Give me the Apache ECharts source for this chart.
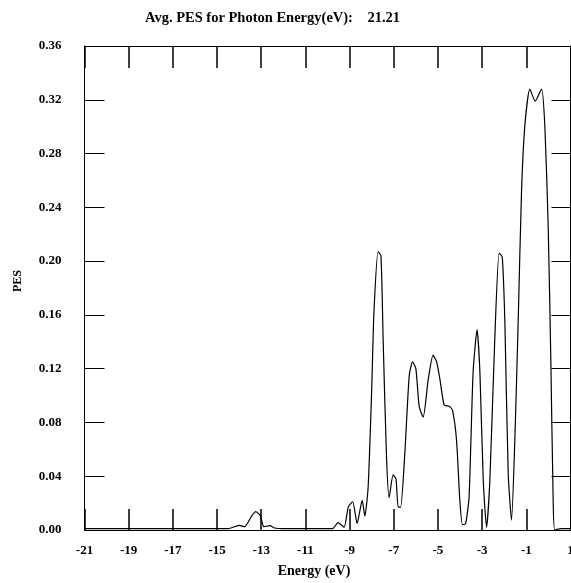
<!DOCTYPE html>
<html>
<head>
<meta charset="utf-8">
<script src="https://cdn.jsdelivr.net/npm/echarts@6/dist/echarts.min.js"></script>
<style>html,body{margin:0;padding:0;background:#fff;}#c{width:571px;height:583px;}</style>
</head>
<body>
<div id="c"></div>
<script>
const titleText = 'Avg. PES for Photon Energy(eV):    21.21';
const xName = 'Energy (eV)';
const yName = 'PES';
const energy = [-21, -20, -19, -18, -17, -16, -15, -14.5, -14.0, -13.75, -13.45, -13.25, -13.05, -12.88, -12.6, -12.4, -12, -11, -10.5, -10, -9.75, -9.52, -9.25, -9.06, -8.86, -8.66, -8.43, -8.31, -8.16, -8.0, -7.9, -7.71, -7.58, -7.48, -7.33, -7.21, -7.03, -6.9, -6.8, -6.69, -6.5, -6.3, -6.15, -6.0, -5.85, -5.67, -5.44, -5.22, -5.06, -4.91, -4.72, -4.49, -4.34, -4.16, -4.01, -3.89, -3.75, -3.59, -3.41, -3.23, -3.1, -2.95, -2.8, -2.65, -2.43, -2.23, -2.09, -1.97, -1.82, -1.67, -1.52, -1.37, -1.22, -1.07, -0.84, -0.6, -0.31, -0.16, -0.01, 0.11, 0.21, 0.29, 0.6, 1];
const pes = [0.001, 0.001, 0.001, 0.001, 0.001, 0.001, 0.001, 0.001, 0.0035, 0.0025, 0.0099, 0.0136, 0.011, 0.0025, 0.0032, 0.0015, 0.001, 0.001, 0.001, 0.001, 0.0012, 0.0055, 0.002, 0.017, 0.021, 0.005, 0.022, 0.0104, 0.032, 0.104, 0.161, 0.207, 0.204, 0.141, 0.055, 0.024, 0.041, 0.038, 0.017, 0.017, 0.057, 0.115, 0.125, 0.12, 0.092, 0.084, 0.112, 0.13, 0.125, 0.112, 0.093, 0.092, 0.089, 0.067, 0.022, 0.004, 0.0045, 0.025, 0.117, 0.149, 0.117, 0.037, 0.002, 0.037, 0.141, 0.206, 0.203, 0.154, 0.042, 0.0074, 0.067, 0.154, 0.25, 0.3, 0.328, 0.319, 0.328, 0.3, 0.226, 0.126, 0.027, 0.0, 0.001, 0.001];

const serif = 'Liberation Serif';
const tickFont = {fontFamily: serif, fontWeight: 'bold', fontSize: 13, color: '#000'};
const chart = echarts.init(document.getElementById('c'), null, {renderer: 'canvas'});
const lineStyle = {color: '#000', width: 1};
chart.setOption({
  animation: false,
  backgroundColor: '#fff',
  title: {text: titleText, left: 140, top: 6, textStyle: {fontFamily: serif, fontWeight: 'bold', fontSize: 14.5, color: '#000'}},
  grid: {left: 84.5, right: 0.5, top: 46, bottom: 53, containLabel: false, outerBoundsMode: 'none'},
  xAxis: [
    {type: 'value', min: -21, max: 1, interval: 2, position: 'bottom',
     axisLine: {show: true, onZero: false, lineStyle: lineStyle},
     axisTick: {show: true, inside: true, length: 21, lineStyle: {color: '#000', width: 1.5}},
     axisLabel: Object.assign({margin: 14}, tickFont),
     splitLine: {show: false}},
    {type: 'value', min: -21, max: 1, interval: 2, position: 'top',
     axisLine: {show: true, onZero: false, lineStyle: lineStyle},
     axisTick: {show: true, inside: true, length: 22, lineStyle: {color: '#000', width: 1.5}},
     axisLabel: {show: false}, splitLine: {show: false}}
  ],
  yAxis: [
    {type: 'value', min: 0, max: 0.36, interval: 0.04, position: 'left',
     axisLine: {show: true, onZero: false, lineStyle: lineStyle},
     axisTick: {show: true, inside: true, length: 20, lineStyle: {color: '#000', width: 1}},
     axisLabel: Object.assign({margin: 23, formatter: v => v.toFixed(2)}, tickFont),
     splitLine: {show: false}},
    {type: 'value', min: 0, max: 0.36, interval: 0.04, position: 'right',
     axisLine: {show: true, onZero: false, lineStyle: lineStyle},
     axisTick: {show: true, inside: true, length: 19, lineStyle: {color: '#000', width: 1}},
     axisLabel: {show: false}, splitLine: {show: false}}
  ],
  graphic: [
    {type: 'text', x: 314, y: 571, style: {text: xName, fill: '#000', font: 'bold 14px "Liberation Serif"', textAlign: 'center', textVerticalAlign: 'middle'}},
    {type: 'text', x: 18, y: 281, rotation: Math.PI / 2, style: {text: yName, fill: '#000', font: 'bold 12px "Liberation Serif"', textAlign: 'center', textVerticalAlign: 'middle'}}
  ],
  series: [{
    type: 'line', xAxisIndex: 0, yAxisIndex: 0,
    data: energy.map((e, i) => [e, pes[i]]),
    showSymbol: false, smooth: 0.2,
    lineStyle: {color: '#000', width: 1.2}
  }]
});
</script>
</body>
</html>
